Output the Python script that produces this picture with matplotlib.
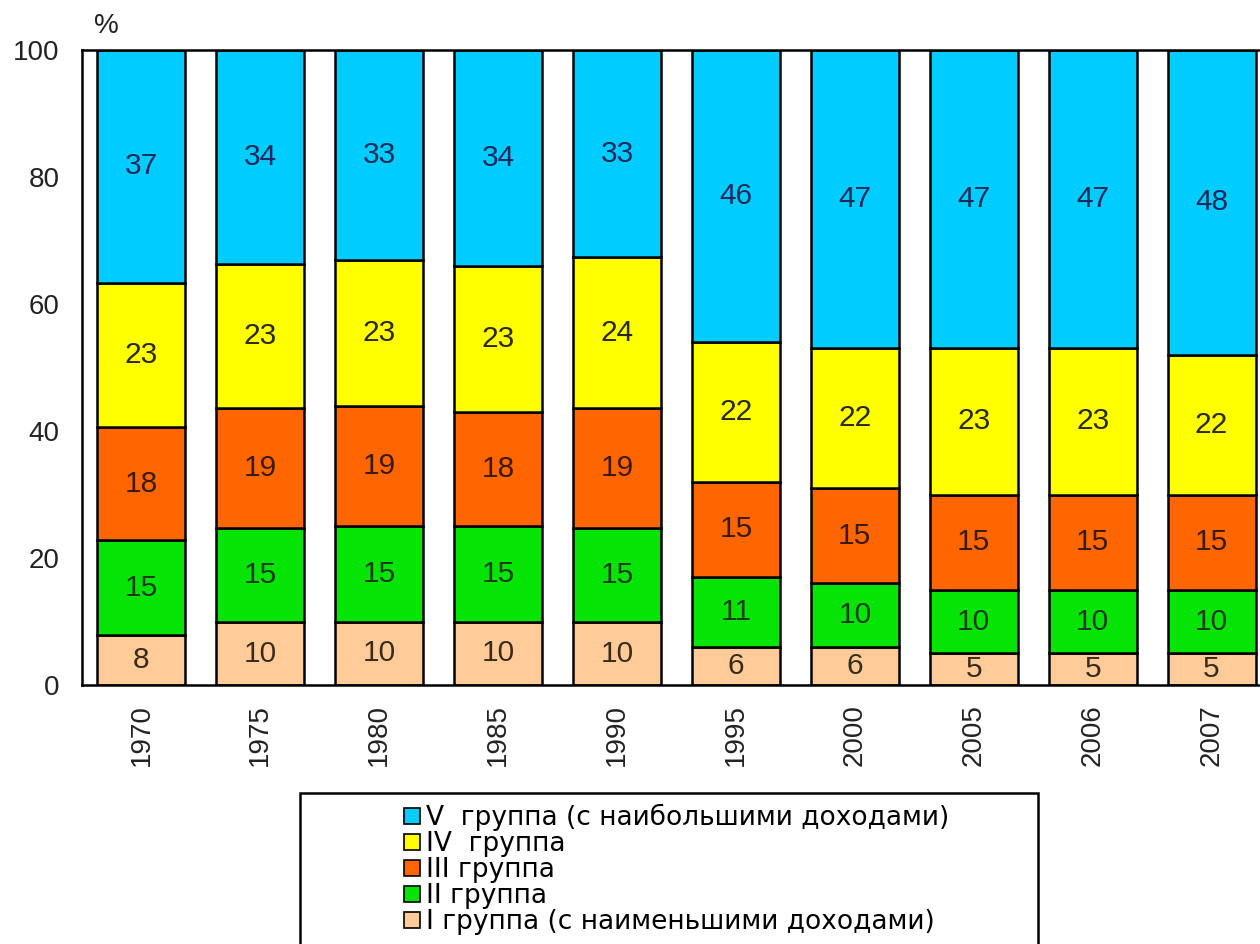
import numpy as np
import matplotlib
matplotlib.use('Agg')
import matplotlib.pyplot as plt
from matplotlib.patches import Patch, Rectangle

plt.rcParams['font.family'] = ['Liberation Sans', 'DejaVu Sans']

# данные: распределение общего объема денежных доходов по 20%-ным группам населения
years = ['1970', '1975', '1980', '1985', '1990', '1995', '2000', '2005', '2006', '2007']
group_1 = [8, 10, 10, 10, 10, 6, 6, 5, 5, 5]
group_2 = [15, 15, 15, 15, 15, 11, 10, 10, 10, 10]
group_3 = [18, 19, 19, 18, 19, 15, 15, 15, 15, 15]
group_4 = [23, 23, 23, 23, 24, 22, 22, 23, 23, 22]
group_5 = [37, 34, 33, 34, 33, 46, 47, 47, 47, 48]

labels = ['I группа (с наименьшими доходами)', 'II группа', 'III группа',
          'IV  группа', 'V  группа (с наибольшими доходами)']
colors = ['#FFCC99', '#06E406', '#FF6600', '#FFFF00', '#00CCFF']
text_colors = ['#3a2a1a', '#1a3a1a', '#3a1a0a', '#2a2a10', '#1a2a5a']

groups = np.array([group_1, group_2, group_3, group_4, group_5], dtype=float)
# нормировка на 100% (как в Excel: "нормированная гистограмма")
shares = groups / groups.sum(axis=0) * 100

fig = plt.figure(figsize=(12.6, 9.44), dpi=100)
ax = fig.add_axes([82 / 1260, 1 - 685 / 944, 1189 / 1260, 635 / 944])

x = np.arange(len(years))
bottom = np.zeros(len(years))
for i in range(5):
    ax.bar(x, shares[i], bottom=bottom, width=0.74, color=colors[i],
           edgecolor='black', linewidth=1.8, label=labels[i])
    for j in range(len(years)):
        ax.text(x[j], bottom[j] + shares[i][j] / 2, str(int(groups[i][j])),
                ha='center', va='center', fontsize=21.5, color=text_colors[i])
    bottom += shares[i]

ax.set_xlim(-0.5, len(years) - 0.5)
ax.set_ylim(0, 100)
ax.set_yticks(np.arange(0, 101, 20))
ax.set_xticks(x)
ax.set_xticklabels(years, rotation=90)
ax.tick_params(axis='both', length=0, labelsize=20, colors='#222222')
ax.tick_params(axis='y', pad=16)
ax.tick_params(axis='x', pad=14)
for s in ax.spines.values():
    s.set_linewidth(1.8)
    s.set_color('black')

fig.text(94 / 1260, 1 - 26 / 944, '%', fontsize=20, color='#222222',
         ha='left', va='center')

# рамка легенды
fig.patches.append(Rectangle((300 / 1260, -0.05), 738 / 1260, 0.05 + 151 / 944,
                             transform=fig.transFigure, fill=False,
                             edgecolor='black', linewidth=1.8))

handles = [Patch(facecolor=colors[i], edgecolor='black', linewidth=1.2)
           for i in range(4, -1, -1)]
leg_labels = [labels[i] for i in range(4, -1, -1)]
fig.legend(handles, leg_labels, loc='upper left',
           bbox_to_anchor=(404 / 1260, 1 - 804 / 944),
           bbox_transform=fig.transFigure, frameon=False,
           prop={'family': 'DejaVu Sans', 'size': 19},
           handlelength=0.6, handleheight=0.6, handletextpad=0.25,
           labelspacing=0.0, borderpad=0, borderaxespad=0)

fig.savefig('out.png', dpi=100)
